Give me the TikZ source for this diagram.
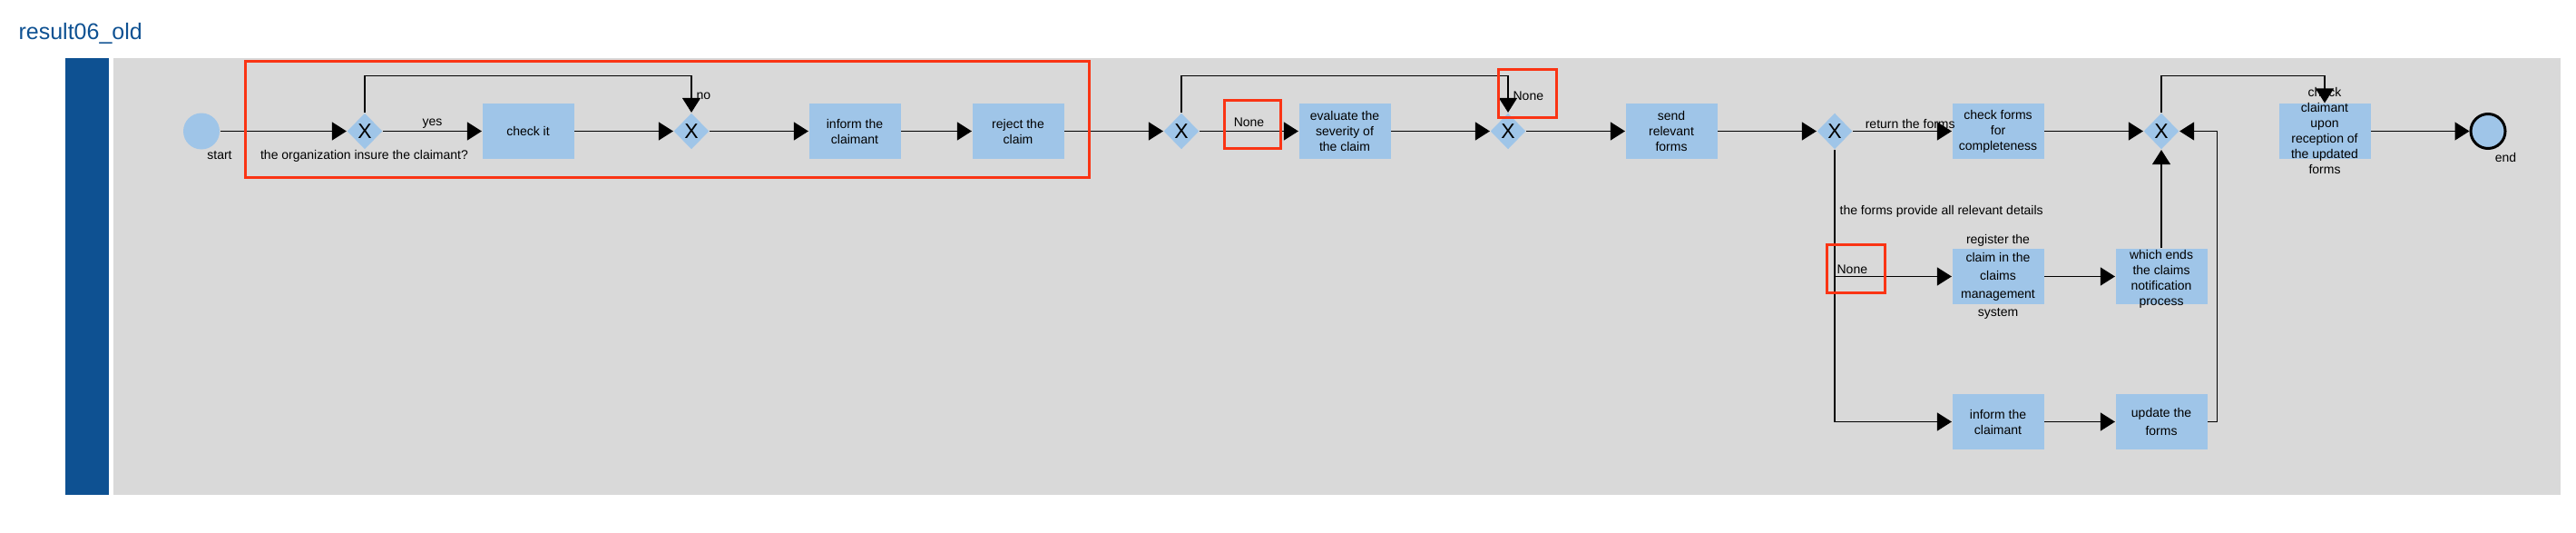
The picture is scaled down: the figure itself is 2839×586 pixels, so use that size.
\documentclass[tikz,border=0pt]{standalone}
\usepackage{fontspec}
\setmainfont{Liberation Sans}
\usetikzlibrary{arrows.meta, positioning, shapes.geometric}

\definecolor{laneblue}{RGB}{14,81,146}
\definecolor{poolgray}{RGB}{217,217,217}
\definecolor{taskblue}{RGB}{159,197,232}
\definecolor{markred}{RGB}{250,52,20}

\begin{document}
\begin{tikzpicture}[x=1pt,y=-1pt,>={Triangle[length=16pt,width=20pt]},
                    node distance=180pt,line width=1.2pt,
                    task/.style={rectangle,fill=taskblue,minimum width=101pt,minimum height=61pt,
                                 inner sep=0pt,align=center,font=\fontsize{14}{17}\selectfont},
                    tasktext/.style={inner sep=0pt,align=center,font=\fontsize{14}{17}\selectfont},
                    gateway/.style={diamond,fill=taskblue,minimum width=39pt,minimum height=40pt,
                                    inner sep=0pt,font=\fontsize{23}{23}\selectfont},
                    event/.style={circle,fill=taskblue,minimum size=40pt,inner sep=0pt},
                    lbl/.style={inner sep=2pt,font=\fontsize{14}{17}\selectfont},
                    redmark/.style={draw=markred,line width=3pt}]

  \useasboundingbox (0,0) rectangle (2839,586);
  % pool and lane
  \fill[laneblue] (72,64) rectangle (120,545);
  \fill[poolgray] (125,64) rectangle (2822,545);
  \node[anchor=base west,inner sep=0pt,text=laneblue,font=\fontsize{25}{30}\selectfont] (title) at (20,44) {result06\_old};

  % main row
  \node[event] (start) at (222,144.5) {};
  \node[gateway] (gw1) [right of=start] {X};
  \node[task] (checkit) [right of=gw1] {check it};
  \node[gateway] (gw2) [right of=checkit] {X};
  \node[task] (inform) [right of=gw2] {inform the\\claimant};
  \node[task] (reject) [right of=inform] {reject the\\claim};
  \node[gateway] (gw3) [right of=reject] {X};
  \node[task] (evaluate) [right of=gw3] {evaluate the\\severity of\\the claim};
  \node[gateway] (gw4) [right of=evaluate] {X};
  \node[task] (send) [right of=gw4] {send\\relevant\\forms};
  \node[gateway] (gw5) [right of=send] {X};
  \node[task] (checkforms) [right of=gw5] {check forms\\for\\completeness};
  \node[gateway] (gw6) [right of=checkforms] {X};
  \node[task] (checkclaimant) [right of=gw6] {};
  \node[event,draw=black,line width=3pt,minimum size=38pt] (end) [right of=checkclaimant] {};

  % lower rows
  \node[task] (register) [node distance=160pt,below of=checkforms] {};
  \node[task] (whichends) [right of=register] {};
  \node[task] (inform2) [node distance=160pt,below of=register] {inform the\\claimant};
  \node[task,font=\fontsize{14}{20}\selectfont] (update) [right of=inform2] {update the\\forms};

  % texts running over their boxes
  \node[tasktext] (checkclaimanttxt) at ([yshift=1pt]checkclaimant) {check\\claimant\\upon\\reception of\\the updated\\forms};
  \node[tasktext,font=\fontsize{14}{20}\selectfont] (registertxt) at (register) {register the\\claim in the\\claims\\management\\system};
  \node[tasktext] (whichendstxt) at ([yshift=-2.5pt]whichends) {which ends\\the claims\\notification\\process};
  \node[lbl] (startlbl) at (242,171) {start};
  \node[lbl] (gw1lbl) at (401.5,172) {the organization insure the claimant?};
  \node[lbl] (endlbl) at (2761.5,173) {end};

  \path[->]
    (start) edge (gw1)
    (gw1) edge node[lbl,above] {yes} (checkit)
    (checkit) edge (gw2)
    (gw2) edge (inform)
    (inform) edge (reject)
    (reject) edge (gw3)
    (gw3) edge node[lbl,above,inner sep=4pt] {None} (evaluate)
    (evaluate) edge (gw4)
    (gw4) edge (send)
    (send) edge (gw5)
    (gw5) edge node[lbl,above,pos=0.58] {return the forms} (checkforms)
    (checkforms) edge (gw6)
    (checkclaimant) edge (end)
    (register) edge (whichends)
    (whichends) edge (gw6)
    (inform2) edge (update);

  \draw[->] (gw1.north) -- ++(0,-40.5) -| node[lbl,right,pos=0.78,xshift=3pt] {no} (gw2.north);
  \draw[->] (gw3.north) -- ++(0,-40.5) -| node[lbl,right,pos=0.78,xshift=3pt] {None} (gw4.north);
  \draw[->] (gw5.south) |- node[lbl,right,pos=0.114,xshift=3pt] {the forms provide all relevant details} (inform2.west);
  \draw[->] (gw5.south |- register.west) -- node[lbl,above right,pos=0] {None} (register.west);
  \draw[->] (update.east) -- ++(10.5,0) |- (gw6.east);
  \draw[->] (gw6.north) -- ++(0,-40.5) -| (checkclaimant.north);

  % highlighted parts
  \draw[redmark] (270,68) rectangle (1200,195);
  \draw[redmark] (1349,110) rectangle (1411,163);
  \draw[redmark] (1651,76) rectangle (1715,129);
  \draw[redmark] (2013,269) rectangle (2077,322);
\end{tikzpicture}
\end{document}
